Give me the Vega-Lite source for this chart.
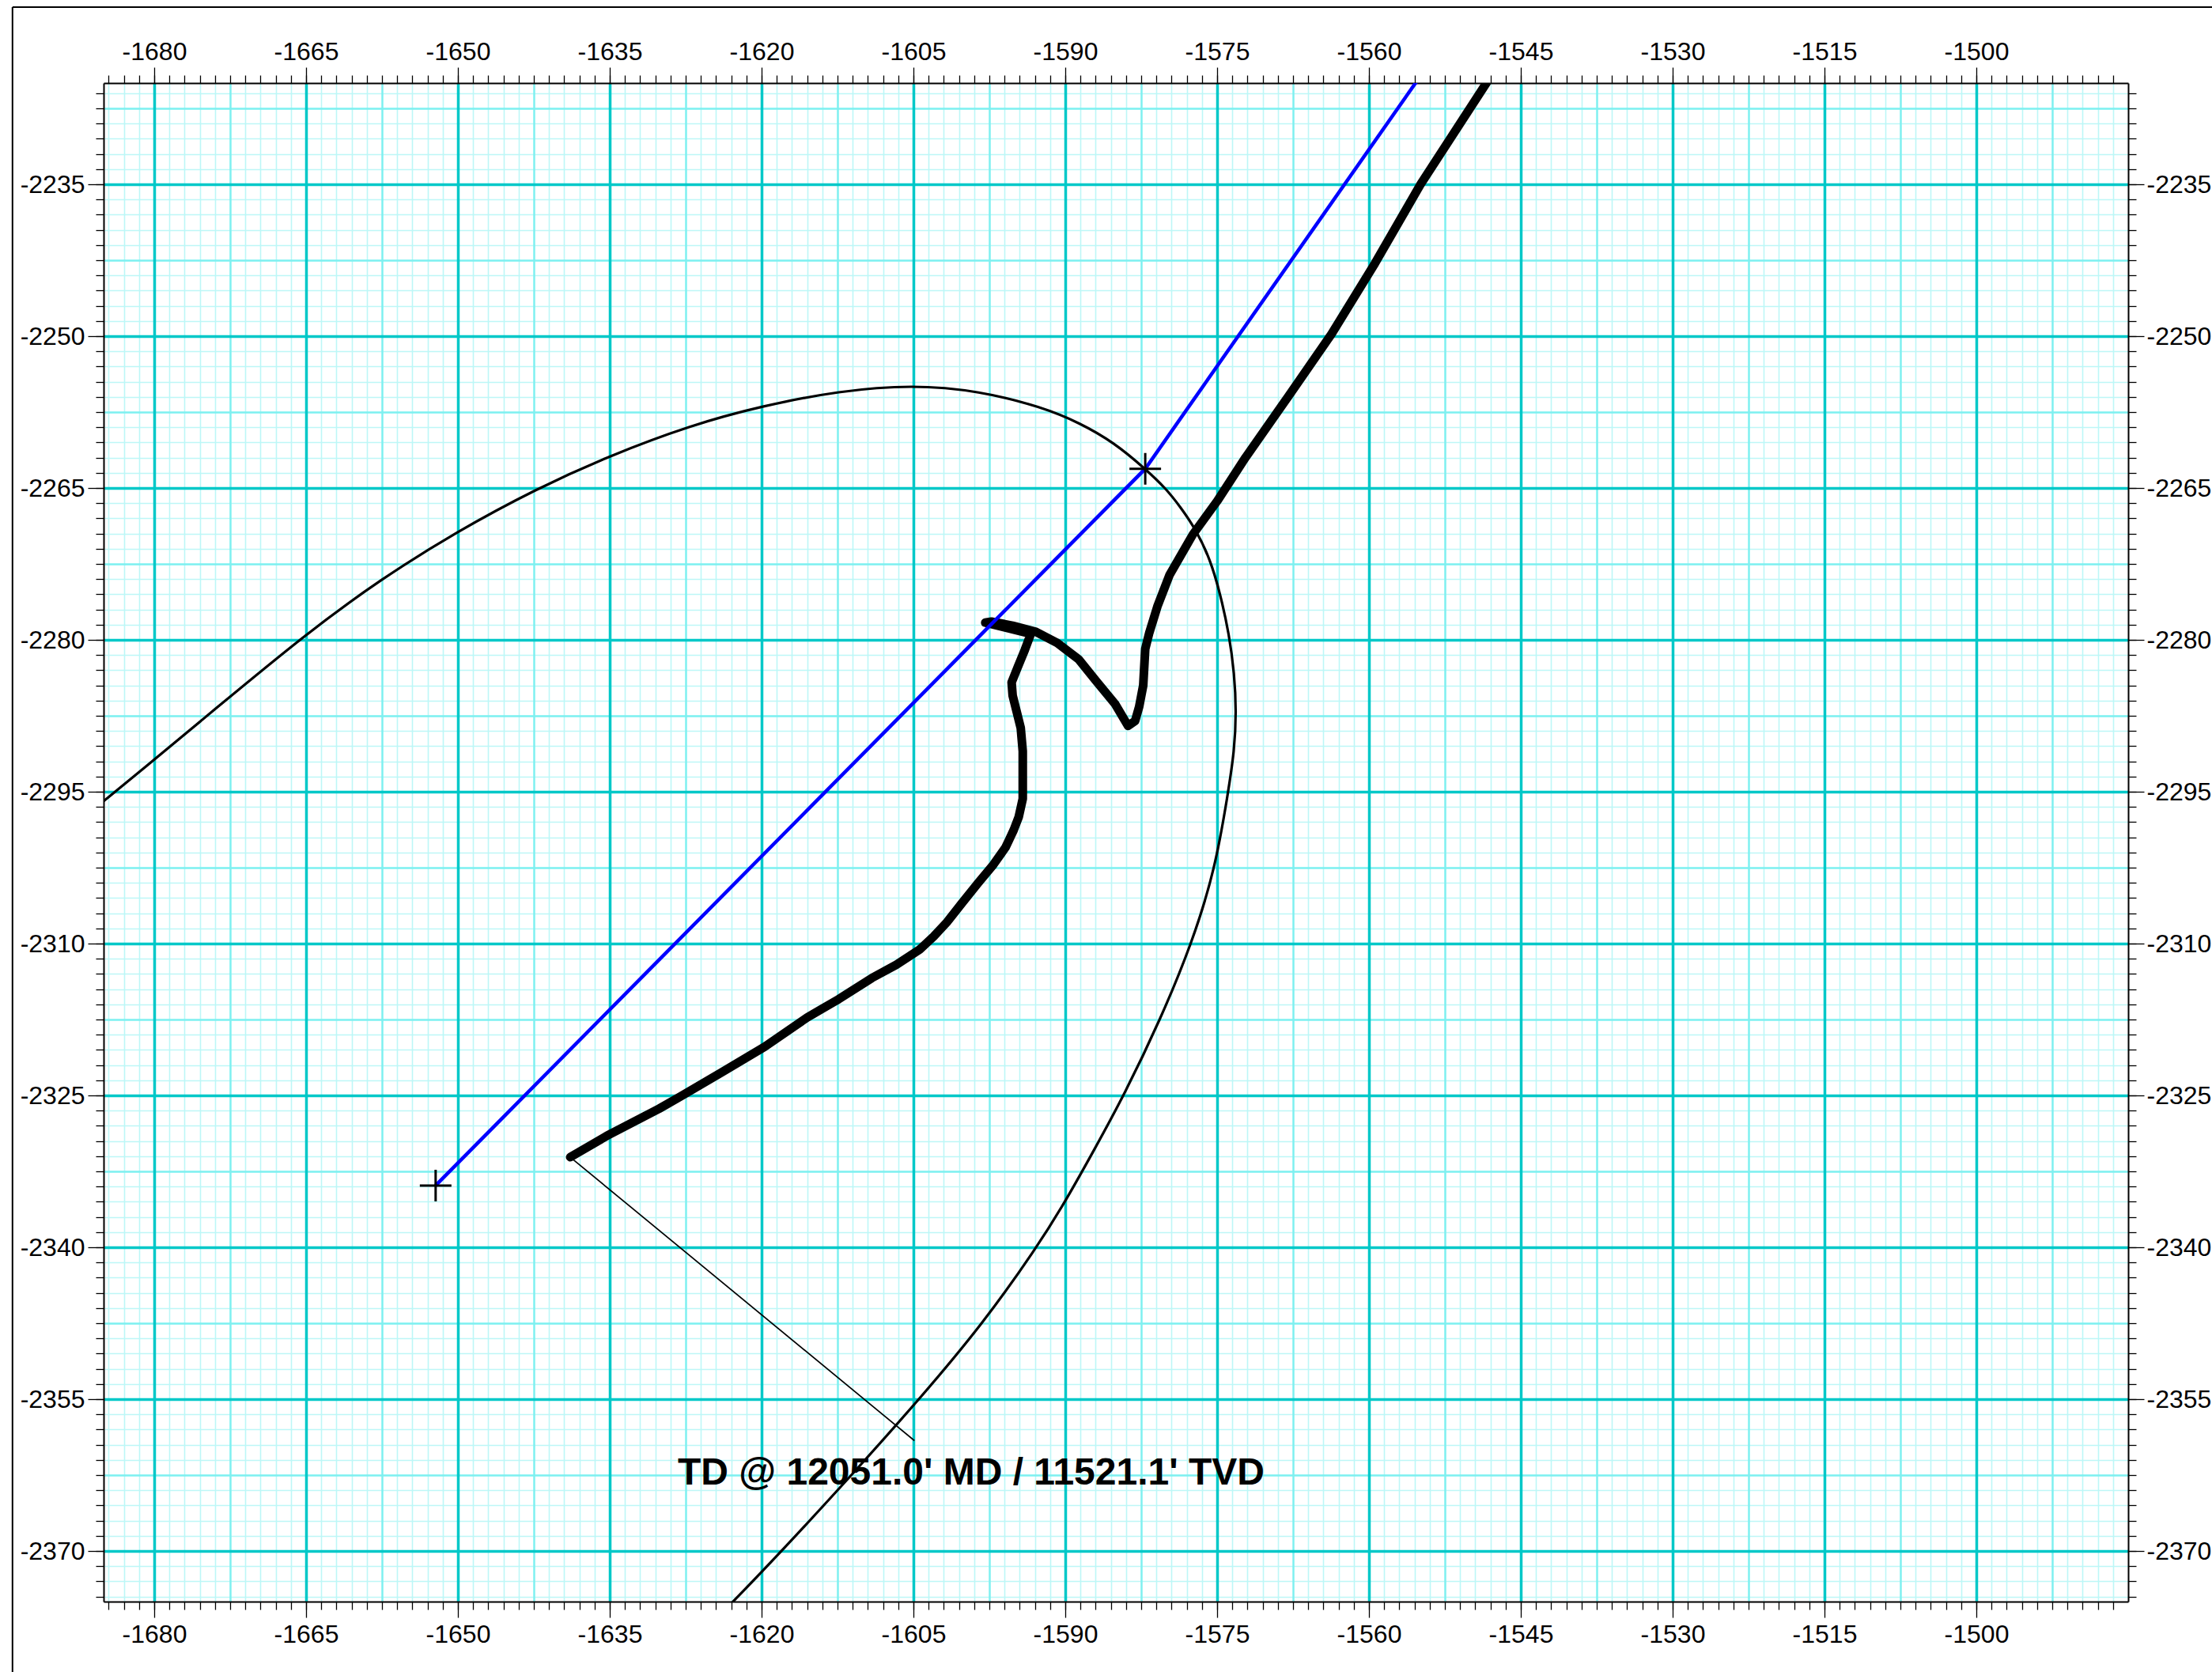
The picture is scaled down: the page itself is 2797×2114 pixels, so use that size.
{
  "$schema": "https://vega.github.io/schema/vega-lite/v6.json",
  "width": 2560,
  "height": 1920,
  "autosize": {"type": "none"},
  "padding": {"left": 131, "top": 105, "right": 106, "bottom": 89},
  "background": "white",
  "config": {"view": {"stroke": null}, "axis": {"labelFont": "Liberation Sans"}},
  "datasets": {
    "ellipse": [
      {"i": 0, "x": -1686.5, "y": -2297.1}, {"i": 1, "x": -1684.8, "y": -2295.8}, {"i": 2, "x": -1681.3, "y": -2292.9},
      {"i": 3, "x": -1674.3, "y": -2287.1}, {"i": 4, "x": -1665.0, "y": -2279.4}, {"i": 5, "x": -1657.6, "y": -2274.0},
      {"i": 6, "x": -1650.1, "y": -2269.3}, {"i": 7, "x": -1642.3, "y": -2265.1}, {"i": 8, "x": -1635.0, "y": -2261.8},
      {"i": 9, "x": -1627.0, "y": -2258.8}, {"i": 10, "x": -1620.0, "y": -2256.9}, {"i": 11, "x": -1612.3, "y": -2255.4},
      {"i": 12, "x": -1605.1, "y": -2254.8}, {"i": 13, "x": -1598.5, "y": -2255.4}, {"i": 14, "x": -1592.3, "y": -2257.0},
      {"i": 15, "x": -1588.5, "y": -2258.6}, {"i": 16, "x": -1585.2, "y": -2260.5}, {"i": 17, "x": -1582.1, "y": -2263.1},
      {"i": 18, "x": -1580.1, "y": -2265.0}, {"i": 19, "x": -1578.6, "y": -2266.9}, {"i": 20, "x": -1577.1, "y": -2269.1},
      {"i": 21, "x": -1575.7, "y": -2272.0}, {"i": 22, "x": -1574.7, "y": -2275.4}, {"i": 23, "x": -1573.8, "y": -2279.5},
      {"i": 24, "x": -1573.3, "y": -2283.3}, {"i": 25, "x": -1573.1, "y": -2287.1}, {"i": 26, "x": -1573.3, "y": -2291.0},
      {"i": 27, "x": -1573.9, "y": -2295.0}, {"i": 28, "x": -1575.2, "y": -2302.7}, {"i": 29, "x": -1577.5, "y": -2310.0},
      {"i": 30, "x": -1580.6, "y": -2317.5}, {"i": 31, "x": -1584.2, "y": -2325.0}, {"i": 32, "x": -1587.1, "y": -2330.3},
      {"i": 33, "x": -1590.0, "y": -2335.5}, {"i": 34, "x": -1592.8, "y": -2340.0}, {"i": 35, "x": -1598.1, "y": -2347.5},
      {"i": 36, "x": -1604.4, "y": -2355.0}, {"i": 37, "x": -1611.1, "y": -2362.5}, {"i": 38, "x": -1618.0, "y": -2370.0},
      {"i": 39, "x": -1622.8, "y": -2375.0}, {"i": 40, "x": -1624.5, "y": -2376.7}
    ],
    "thick": [
      {"i": 0, "x": -1546.5, "y": -2222.0}, {"i": 1, "x": -1548.4, "y": -2225.0}, {"i": 2, "x": -1554.9, "y": -2235.0},
      {"i": 3, "x": -1559.4, "y": -2242.8}, {"i": 4, "x": -1563.7, "y": -2249.8}, {"i": 5, "x": -1568.0, "y": -2256.0},
      {"i": 6, "x": -1572.2, "y": -2262.0}, {"i": 7, "x": -1575.0, "y": -2266.3}, {"i": 8, "x": -1577.4, "y": -2269.6},
      {"i": 9, "x": -1579.7, "y": -2273.6}, {"i": 10, "x": -1580.9, "y": -2276.7}, {"i": 11, "x": -1581.7, "y": -2279.3},
      {"i": 12, "x": -1582.1, "y": -2280.9}, {"i": 13, "x": -1582.3, "y": -2284.5}, {"i": 14, "x": -1582.7, "y": -2286.6},
      {"i": 15, "x": -1583.1, "y": -2288.0}, {"i": 16, "x": -1583.8, "y": -2288.5}, {"i": 17, "x": -1585.1, "y": -2286.3},
      {"i": 18, "x": -1587.0, "y": -2284.0}, {"i": 19, "x": -1588.7, "y": -2281.9}, {"i": 20, "x": -1590.8, "y": -2280.3},
      {"i": 21, "x": -1592.9, "y": -2279.2}, {"i": 22, "x": -1595.2, "y": -2278.6}, {"i": 23, "x": -1597.3, "y": -2278.2},
      {"i": 24, "x": -1597.9, "y": -2278.3}, {"i": 25, "x": -1593.4, "y": -2279.4}, {"i": 26, "x": -1594.0, "y": -2281.0},
      {"i": 27, "x": -1594.7, "y": -2282.7}, {"i": 28, "x": -1595.3, "y": -2284.2}, {"i": 29, "x": -1595.2, "y": -2285.5},
      {"i": 30, "x": -1594.8, "y": -2287.1}, {"i": 31, "x": -1594.4, "y": -2288.7}, {"i": 32, "x": -1594.2, "y": -2291.0},
      {"i": 33, "x": -1594.2, "y": -2293.6}, {"i": 34, "x": -1594.2, "y": -2295.7}, {"i": 35, "x": -1594.6, "y": -2297.5},
      {"i": 36, "x": -1595.1, "y": -2298.8}, {"i": 37, "x": -1595.9, "y": -2300.5}, {"i": 38, "x": -1597.1, "y": -2302.2},
      {"i": 39, "x": -1598.6, "y": -2304.0}, {"i": 40, "x": -1600.2, "y": -2306.0}, {"i": 41, "x": -1601.7, "y": -2307.9},
      {"i": 42, "x": -1603.0, "y": -2309.3}, {"i": 43, "x": -1604.4, "y": -2310.6}, {"i": 44, "x": -1606.7, "y": -2312.1},
      {"i": 45, "x": -1609.1, "y": -2313.4}, {"i": 46, "x": -1612.4, "y": -2315.5}, {"i": 47, "x": -1615.5, "y": -2317.3},
      {"i": 48, "x": -1619.7, "y": -2320.2}, {"i": 49, "x": -1623.9, "y": -2322.7}, {"i": 50, "x": -1628.0, "y": -2325.1},
      {"i": 51, "x": -1630.1, "y": -2326.3}, {"i": 52, "x": -1635.3, "y": -2329.0}, {"i": 53, "x": -1638.9, "y": -2331.1}
    ],
    "blue": [
      {"i": 0, "x": -1652.2, "y": -2333.9}, {"i": 1, "x": -1582.1, "y": -2263.1},
      {"i": 2, "x": -1555.4, "y": -2225.0}, {"i": 3, "x": -1553.3, "y": -2222.0}
    ],
    "leader": [
      {"i": 0, "x": -1638.9, "y": -2331.1}, {"i": 1, "x": -1604.9, "y": -2359.1}
    ],
    "crosses": [
      {"x": -1652.2, "y": -2333.9}, {"x": -1582.1, "y": -2263.1}
    ],
    "label": [
      {"label": "TD @ 12051.0' MD / 11521.1' TVD", "x": -1599.3, "y": -2363.4}
    ]
  },
  "resolve": {"scale": {"x": "shared", "y": "shared"}, "axis": {"x": "independent", "y": "independent"}},
  "layer": [
    {
      "data": {"name": "ellipse"},
      "mark": {"type": "line", "stroke": "black", "strokeWidth": 3.2, "interpolate": "basis", "clip": true},
      "encoding": {
        "x": {"field": "x", "type": "quantitative", "scale": {"domain": [-1685, -1485], "nice": false, "zero": false},
          "axis": {"orient": "bottom", "title": null, "grid": true, "gridColor": "#bdf7f7", "gridWidth": 1.6, "ticks": false, "labels": false, "domain": false,
            "values": [-1684.5, -1683, -1681.5, -1680, -1678.5, -1677, -1675.5, -1674, -1672.5, -1671, -1669.5, -1668, -1666.5, -1665, -1663.5, -1662, -1660.5, -1659, -1657.5, -1656, -1654.5, -1653, -1651.5, -1650, -1648.5, -1647, -1645.5, -1644, -1642.5, -1641, -1639.5, -1638, -1636.5, -1635, -1633.5, -1632, -1630.5, -1629, -1627.5, -1626, -1624.5, -1623, -1621.5, -1620, -1618.5, -1617, -1615.5, -1614, -1612.5, -1611, -1609.5, -1608, -1606.5, -1605, -1603.5, -1602, -1600.5, -1599, -1597.5, -1596, -1594.5, -1593, -1591.5, -1590, -1588.5, -1587, -1585.5, -1584, -1582.5, -1581, -1579.5, -1578, -1576.5, -1575, -1573.5, -1572, -1570.5, -1569, -1567.5, -1566, -1564.5, -1563, -1561.5, -1560, -1558.5, -1557, -1555.5, -1554, -1552.5, -1551, -1549.5, -1548, -1546.5, -1545, -1543.5, -1542, -1540.5, -1539, -1537.5, -1536, -1534.5, -1533, -1531.5, -1530, -1528.5, -1527, -1525.5, -1524, -1522.5, -1521, -1519.5, -1518, -1516.5, -1515, -1513.5, -1512, -1510.5, -1509, -1507.5, -1506, -1504.5, -1503, -1501.5, -1500, -1498.5, -1497, -1495.5, -1494, -1492.5, -1491, -1489.5, -1488, -1486.5]}},
        "y": {"field": "y", "type": "quantitative", "scale": {"domain": [-2375, -2225], "nice": false, "zero": false},
          "axis": {"orient": "left", "title": null, "grid": true, "gridColor": "#bdf7f7", "gridWidth": 1.6, "ticks": false, "labels": false, "domain": false,
            "values": [-2374.5, -2373, -2371.5, -2370, -2368.5, -2367, -2365.5, -2364, -2362.5, -2361, -2359.5, -2358, -2356.5, -2355, -2353.5, -2352, -2350.5, -2349, -2347.5, -2346, -2344.5, -2343, -2341.5, -2340, -2338.5, -2337, -2335.5, -2334, -2332.5, -2331, -2329.5, -2328, -2326.5, -2325, -2323.5, -2322, -2320.5, -2319, -2317.5, -2316, -2314.5, -2313, -2311.5, -2310, -2308.5, -2307, -2305.5, -2304, -2302.5, -2301, -2299.5, -2298, -2296.5, -2295, -2293.5, -2292, -2290.5, -2289, -2287.5, -2286, -2284.5, -2283, -2281.5, -2280, -2278.5, -2277, -2275.5, -2274, -2272.5, -2271, -2269.5, -2268, -2266.5, -2265, -2263.5, -2262, -2260.5, -2259, -2257.5, -2256, -2254.5, -2253, -2251.5, -2250, -2248.5, -2247, -2245.5, -2244, -2242.5, -2241, -2239.5, -2238, -2236.5, -2235, -2233.5, -2232, -2230.5, -2229, -2227.5, -2226]}},
        "order": {"field": "i", "type": "quantitative"}
      }
    },
    {
      "data": {"name": "leader"},
      "mark": {"type": "line", "stroke": "black", "strokeWidth": 1.7},
      "encoding": {
        "x": {"field": "x", "type": "quantitative", "scale": {"domain": [-1685, -1485], "nice": false, "zero": false},
          "axis": {"orient": "bottom", "title": null, "grid": false, "ticks": true, "tickSize": -1920, "tickColor": "#7ef0f0", "tickWidth": 2.4, "tickCap": "butt", "labels": false, "domain": false,
            "values": [-1672.5, -1657.5, -1642.5, -1627.5, -1612.5, -1597.5, -1582.5, -1567.5, -1552.5, -1537.5, -1522.5, -1507.5, -1492.5]}},
        "y": {"field": "y", "type": "quantitative", "scale": {"domain": [-2375, -2225], "nice": false, "zero": false},
          "axis": {"orient": "left", "title": null, "grid": true, "gridColor": "#7ef0f0", "gridWidth": 2.4, "ticks": false, "labels": false, "domain": false,
            "values": [-2362.5, -2347.5, -2332.5, -2317.5, -2302.5, -2287.5, -2272.5, -2257.5, -2242.5, -2227.5]}},
        "order": {"field": "i", "type": "quantitative"}
      }
    },
    {
      "data": {"name": "thick"},
      "mark": {"type": "line", "stroke": "black", "strokeWidth": 11, "strokeCap": "round", "strokeJoin": "round", "clip": true},
      "encoding": {
        "x": {"field": "x", "type": "quantitative", "scale": {"domain": [-1685, -1485], "nice": false, "zero": false},
          "axis": {"orient": "bottom", "title": null, "grid": false, "ticks": true, "tickSize": -1920, "tickColor": "#00c8c8", "tickWidth": 3.5, "tickCap": "butt", "labels": false, "domain": false,
            "values": [-1680, -1665, -1650, -1635, -1620, -1605, -1590, -1575, -1560, -1545, -1530, -1515, -1500]}},
        "y": {"field": "y", "type": "quantitative", "scale": {"domain": [-2375, -2225], "nice": false, "zero": false},
          "axis": {"orient": "left", "title": null, "grid": false, "ticks": true, "tickSize": -2560, "tickColor": "#00c8c8", "tickWidth": 3.5, "tickCap": "butt", "labels": false, "domain": false,
            "values": [-2370, -2355, -2340, -2325, -2310, -2295, -2280, -2265, -2250, -2235]}},
        "order": {"field": "i", "type": "quantitative"}
      }
    },
    {
      "data": {"name": "blue"},
      "mark": {"type": "line", "stroke": "#0000ff", "strokeWidth": 4.5, "clip": true},
      "encoding": {
        "x": {"field": "x", "type": "quantitative", "scale": {"domain": [-1685, -1485], "nice": false, "zero": false},
          "axis": {"orient": "bottom", "title": null, "grid": false, "ticks": true, "tickSize": 10, "tickColor": "black", "tickWidth": 1.3, "labels": false, "domain": true, "domainColor": "black", "domainWidth": 2,
            "values": [-1684.5, -1683, -1681.5, -1680, -1678.5, -1677, -1675.5, -1674, -1672.5, -1671, -1669.5, -1668, -1666.5, -1665, -1663.5, -1662, -1660.5, -1659, -1657.5, -1656, -1654.5, -1653, -1651.5, -1650, -1648.5, -1647, -1645.5, -1644, -1642.5, -1641, -1639.5, -1638, -1636.5, -1635, -1633.5, -1632, -1630.5, -1629, -1627.5, -1626, -1624.5, -1623, -1621.5, -1620, -1618.5, -1617, -1615.5, -1614, -1612.5, -1611, -1609.5, -1608, -1606.5, -1605, -1603.5, -1602, -1600.5, -1599, -1597.5, -1596, -1594.5, -1593, -1591.5, -1590, -1588.5, -1587, -1585.5, -1584, -1582.5, -1581, -1579.5, -1578, -1576.5, -1575, -1573.5, -1572, -1570.5, -1569, -1567.5, -1566, -1564.5, -1563, -1561.5, -1560, -1558.5, -1557, -1555.5, -1554, -1552.5, -1551, -1549.5, -1548, -1546.5, -1545, -1543.5, -1542, -1540.5, -1539, -1537.5, -1536, -1534.5, -1533, -1531.5, -1530, -1528.5, -1527, -1525.5, -1524, -1522.5, -1521, -1519.5, -1518, -1516.5, -1515, -1513.5, -1512, -1510.5, -1509, -1507.5, -1506, -1504.5, -1503, -1501.5, -1500, -1498.5, -1497, -1495.5, -1494, -1492.5, -1491, -1489.5, -1488, -1486.5]}},
        "y": {"field": "y", "type": "quantitative", "scale": {"domain": [-2375, -2225], "nice": false, "zero": false},
          "axis": {"orient": "left", "title": null, "grid": false, "ticks": true, "tickSize": 10, "tickColor": "black", "tickWidth": 1.3, "labels": false, "domain": true, "domainColor": "black", "domainWidth": 2,
            "values": [-2374.5, -2373, -2371.5, -2370, -2368.5, -2367, -2365.5, -2364, -2362.5, -2361, -2359.5, -2358, -2356.5, -2355, -2353.5, -2352, -2350.5, -2349, -2347.5, -2346, -2344.5, -2343, -2341.5, -2340, -2338.5, -2337, -2335.5, -2334, -2332.5, -2331, -2329.5, -2328, -2326.5, -2325, -2323.5, -2322, -2320.5, -2319, -2317.5, -2316, -2314.5, -2313, -2311.5, -2310, -2308.5, -2307, -2305.5, -2304, -2302.5, -2301, -2299.5, -2298, -2296.5, -2295, -2293.5, -2292, -2290.5, -2289, -2287.5, -2286, -2284.5, -2283, -2281.5, -2280, -2278.5, -2277, -2275.5, -2274, -2272.5, -2271, -2269.5, -2268, -2266.5, -2265, -2263.5, -2262, -2260.5, -2259, -2257.5, -2256, -2254.5, -2253, -2251.5, -2250, -2248.5, -2247, -2245.5, -2244, -2242.5, -2241, -2239.5, -2238, -2236.5, -2235, -2233.5, -2232, -2230.5, -2229, -2227.5, -2226]}},
        "order": {"field": "i", "type": "quantitative"}
      }
    },
    {
      "data": {"name": "crosses"},
      "mark": {"type": "point", "shape": "M-1,0L1,0M0,-1L0,1", "size": 1600, "filled": false, "stroke": "black", "strokeWidth": 3, "opacity": 1},
      "encoding": {
        "x": {"field": "x", "type": "quantitative", "scale": {"domain": [-1685, -1485], "nice": false, "zero": false},
          "axis": {"orient": "bottom", "title": null, "grid": false, "ticks": true, "tickSize": 20, "tickColor": "black", "tickWidth": 1.3, "domain": false,
            "labels": true, "labelExpr": "toString(datum.value)", "labelFont": "Liberation Sans", "labelFontSize": 32, "labelColor": "black", "labelPadding": 6, "labelOverlap": false, "labelFlush": false, "labelBound": false,
            "values": [-1680, -1665, -1650, -1635, -1620, -1605, -1590, -1575, -1560, -1545, -1530, -1515, -1500]}},
        "y": {"field": "y", "type": "quantitative", "scale": {"domain": [-2375, -2225], "nice": false, "zero": false},
          "axis": {"orient": "left", "title": null, "grid": false, "ticks": true, "tickSize": 20, "tickColor": "black", "tickWidth": 1.3, "domain": false,
            "labels": true, "labelExpr": "toString(datum.value)", "labelFont": "Liberation Sans", "labelFontSize": 32, "labelColor": "black", "labelPadding": 4, "labelOverlap": false, "labelFlush": false, "labelBound": false,
            "values": [-2370, -2355, -2340, -2325, -2310, -2295, -2280, -2265, -2250, -2235]}}
      }
    },
    {
      "data": {"name": "label"},
      "mark": {"type": "text", "font": "Liberation Sans", "fontSize": 48, "fontWeight": "bold", "align": "center", "baseline": "alphabetic", "color": "black"},
      "encoding": {
        "x": {"field": "x", "type": "quantitative", "scale": {"domain": [-1685, -1485], "nice": false, "zero": false},
          "axis": {"orient": "top", "title": null, "grid": false, "ticks": true, "tickSize": 10, "tickColor": "black", "tickWidth": 1.3, "labels": false, "domain": true, "domainColor": "black", "domainWidth": 2,
            "values": [-1684.5, -1683, -1681.5, -1680, -1678.5, -1677, -1675.5, -1674, -1672.5, -1671, -1669.5, -1668, -1666.5, -1665, -1663.5, -1662, -1660.5, -1659, -1657.5, -1656, -1654.5, -1653, -1651.5, -1650, -1648.5, -1647, -1645.5, -1644, -1642.5, -1641, -1639.5, -1638, -1636.5, -1635, -1633.5, -1632, -1630.5, -1629, -1627.5, -1626, -1624.5, -1623, -1621.5, -1620, -1618.5, -1617, -1615.5, -1614, -1612.5, -1611, -1609.5, -1608, -1606.5, -1605, -1603.5, -1602, -1600.5, -1599, -1597.5, -1596, -1594.5, -1593, -1591.5, -1590, -1588.5, -1587, -1585.5, -1584, -1582.5, -1581, -1579.5, -1578, -1576.5, -1575, -1573.5, -1572, -1570.5, -1569, -1567.5, -1566, -1564.5, -1563, -1561.5, -1560, -1558.5, -1557, -1555.5, -1554, -1552.5, -1551, -1549.5, -1548, -1546.5, -1545, -1543.5, -1542, -1540.5, -1539, -1537.5, -1536, -1534.5, -1533, -1531.5, -1530, -1528.5, -1527, -1525.5, -1524, -1522.5, -1521, -1519.5, -1518, -1516.5, -1515, -1513.5, -1512, -1510.5, -1509, -1507.5, -1506, -1504.5, -1503, -1501.5, -1500, -1498.5, -1497, -1495.5, -1494, -1492.5, -1491, -1489.5, -1488, -1486.5]}},
        "y": {"field": "y", "type": "quantitative", "scale": {"domain": [-2375, -2225], "nice": false, "zero": false},
          "axis": {"orient": "right", "title": null, "grid": false, "ticks": true, "tickSize": 10, "tickColor": "black", "tickWidth": 1.3, "labels": false, "domain": true, "domainColor": "black", "domainWidth": 2,
            "values": [-2374.5, -2373, -2371.5, -2370, -2368.5, -2367, -2365.5, -2364, -2362.5, -2361, -2359.5, -2358, -2356.5, -2355, -2353.5, -2352, -2350.5, -2349, -2347.5, -2346, -2344.5, -2343, -2341.5, -2340, -2338.5, -2337, -2335.5, -2334, -2332.5, -2331, -2329.5, -2328, -2326.5, -2325, -2323.5, -2322, -2320.5, -2319, -2317.5, -2316, -2314.5, -2313, -2311.5, -2310, -2308.5, -2307, -2305.5, -2304, -2302.5, -2301, -2299.5, -2298, -2296.5, -2295, -2293.5, -2292, -2290.5, -2289, -2287.5, -2286, -2284.5, -2283, -2281.5, -2280, -2278.5, -2277, -2275.5, -2274, -2272.5, -2271, -2269.5, -2268, -2266.5, -2265, -2263.5, -2262, -2260.5, -2259, -2257.5, -2256, -2254.5, -2253, -2251.5, -2250, -2248.5, -2247, -2245.5, -2244, -2242.5, -2241, -2239.5, -2238, -2236.5, -2235, -2233.5, -2232, -2230.5, -2229, -2227.5, -2226]}},
        "text": {"field": "label"}
      }
    },
    {
      "data": {"name": "crosses"},
      "mark": {"type": "point", "opacity": 0},
      "encoding": {
        "x": {"field": "x", "type": "quantitative", "scale": {"domain": [-1685, -1485], "nice": false, "zero": false},
          "axis": {"orient": "top", "title": null, "grid": false, "ticks": true, "tickSize": 20, "tickColor": "black", "tickWidth": 1.3, "domain": false,
            "labels": true, "labelExpr": "toString(datum.value)", "labelFont": "Liberation Sans", "labelFontSize": 32, "labelColor": "black", "labelPadding": 3, "labelOverlap": false, "labelFlush": false, "labelBound": false,
            "values": [-1680, -1665, -1650, -1635, -1620, -1605, -1590, -1575, -1560, -1545, -1530, -1515, -1500]}},
        "y": {"field": "y", "type": "quantitative", "scale": {"domain": [-2375, -2225], "nice": false, "zero": false},
          "axis": {"orient": "right", "title": null, "grid": false, "ticks": true, "tickSize": 20, "tickColor": "black", "tickWidth": 1.3, "domain": false,
            "labels": true, "labelExpr": "toString(datum.value)", "labelFont": "Liberation Sans", "labelFontSize": 32, "labelColor": "black", "labelPadding": 3, "labelOverlap": false, "labelFlush": false, "labelBound": false,
            "values": [-2370, -2355, -2340, -2325, -2310, -2295, -2280, -2265, -2250, -2235]}}
      }
    },
    {
      "data": {"values": [{}]},
      "mark": {"type": "rule", "stroke": "black", "strokeWidth": 2, "clip": false},
      "encoding": {
        "x": {"datum": -1694, "type": "quantitative", "scale": {"domain": [-1685, -1485], "nice": false, "zero": false}, "axis": null},
        "y": {"datum": -2217.5, "type": "quantitative", "scale": {"domain": [-2375, -2225], "nice": false, "zero": false}, "axis": null},
        "y2": {"datum": -2460}
      }
    },
    {
      "data": {"values": [{}]},
      "mark": {"type": "rule", "stroke": "black", "strokeWidth": 2, "clip": false},
      "encoding": {
        "x": {"datum": -1694, "type": "quantitative", "scale": {"domain": [-1685, -1485], "nice": false, "zero": false}, "axis": null},
        "x2": {"datum": -1440},
        "y": {"datum": -2217.5, "type": "quantitative", "scale": {"domain": [-2375, -2225], "nice": false, "zero": false}, "axis": null}
      }
    }
  ]
}
